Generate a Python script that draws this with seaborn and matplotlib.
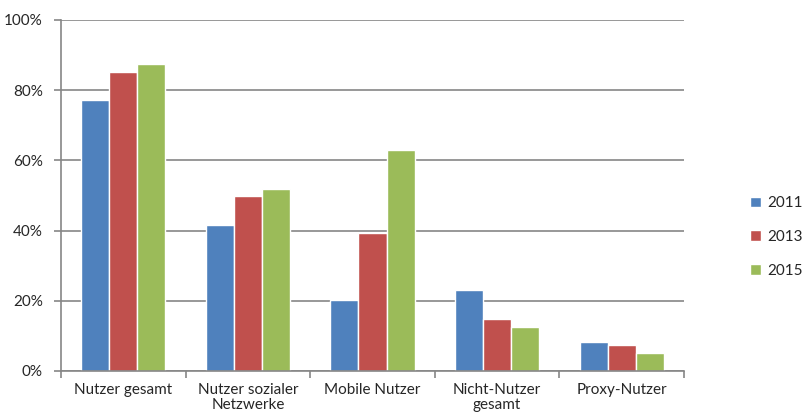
import matplotlib
matplotlib.use("Agg")
import matplotlib.pyplot as plt
import seaborn as sns
import pandas as pd
from matplotlib.ticker import PercentFormatter, FixedLocator

categories = ["Nutzer gesamt", "Nutzer sozialer\nNetzwerke", "Mobile Nutzer",
              "Nicht-Nutzer\ngesamt", "Proxy-Nutzer"]
years = ["2011", "2013", "2015"]
values_2011 = [77.2, 41.6, 20.2, 23.1, 8.3]
values_2013 = [85.2, 49.9, 39.3, 14.8, 7.4]
values_2015 = [87.5, 51.9, 63.0, 12.5, 5.1]
colors = ["#4F81BD", "#C0504D", "#9BBB59"]

df = pd.DataFrame({
    "Kategorie": categories * 3,
    "Jahr": [y for y in years for _ in categories],
    "Wert": values_2011 + values_2013 + values_2015,
})

sns.set_style("white")
plt.rcParams["font.family"] = ["Lato", "DejaVu Sans"]

fig = plt.figure(figsize=(8.11, 4.16), dpi=100)
ax = fig.add_axes([0.0752, 0.1082, 0.7682, 0.8438])

sns.barplot(data=df, x="Kategorie", y="Wert", hue="Jahr", palette=colors,
            width=0.675, saturation=1, ax=ax, legend=True)

ax.set_ylim(0, 100)
ax.set_xlim(-0.5, 4.5)
ax.yaxis.set_major_formatter(PercentFormatter(decimals=0))
ax.set_yticks([0, 20, 40, 60, 80, 100])
ax.set_xlabel("")
ax.set_ylabel("")

grid_col = "#868686"
ax.yaxis.grid(True, color=grid_col, linewidth=1.2)
ax.set_axisbelow(True)
for side in ["top", "right"]:
    ax.spines[side].set_visible(False)
for side in ["left", "bottom"]:
    ax.spines[side].set_color(grid_col)
    ax.spines[side].set_linewidth(1.2)

ax.tick_params(axis="y", which="major", direction="out", length=5, color=grid_col,
               width=1.2, labelsize=11, pad=8, left=True)
ax.tick_params(axis="x", which="major", length=0, labelsize=11, pad=9)
for lbl in ax.get_xticklabels():
    lbl.set_linespacing(1.05)
ax.xaxis.set_minor_locator(FixedLocator([-0.5, 0.5, 1.5, 2.5, 3.5, 4.5]))
ax.tick_params(axis="x", which="minor", direction="out", length=5, color=grid_col,
               width=1.2, bottom=True)

handles, labels = ax.get_legend_handles_labels()
ax.legend(handles, labels, loc="center left", bbox_to_anchor=(0.925, 0.43),
          bbox_transform=fig.transFigure, frameon=False, fontsize=11,
          handlelength=0.7, handleheight=0.7, labelspacing=1.3,
          handletextpad=0.45, borderaxespad=0, borderpad=0)

fig.savefig("out.png", dpi=100)
